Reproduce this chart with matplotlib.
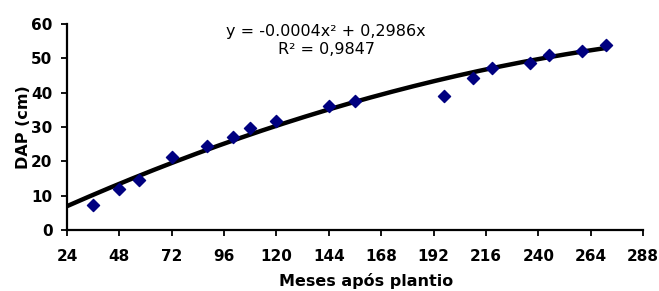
import numpy as np
import matplotlib
matplotlib.use("Agg")
import matplotlib.pyplot as plt

meses = [36, 48, 57, 72, 88, 100, 108, 120, 144, 156, 197, 210, 219, 236, 245, 260, 271]
dap = [7.3, 11.8, 14.7, 21.3, 24.5, 27.1, 29.6, 31.8, 36.1, 37.6, 39.0, 44.3, 47.2, 48.7, 51.1, 52.1, 53.8]

# linha de tendência polinomial (coeficientes; a equação mostrada é arredondada)
coef_a = -0.00038
coef_b = 0.2986
inicio_tend = 24
fim_tend = 271

xticks = [24, 48, 72, 96, 120, 144, 168, 192, 216, 240, 264, 288]
yticks = [0, 10, 20, 30, 40, 50, 60]

plt.rcParams['font.family'] = ['DejaVu Sans']

fig = plt.figure(figsize=(6.59, 2.91), dpi=100)
ax = fig.add_axes([0.1017, 0.2096, 0.874, 0.7079])

xt = np.linspace(inicio_tend, fim_tend, 200)
ax.plot(xt, coef_a * xt**2 + coef_b * xt, color='black', lw=3.2, zorder=2)
ax.scatter(meses, dap, marker='D', s=38, color='#000080', zorder=3)

ax.set_xlim(24, 288)
ax.set_ylim(0, 60)
ax.set_xticks(xticks)
ax.set_yticks(yticks)
for lbl in ax.get_xticklabels() + ax.get_yticklabels():
    lbl.set_fontweight('bold')
ax.tick_params(labelsize=11, length=4.5, width=1.3, direction='out')
ax.tick_params(axis='x', pad=9)
ax.tick_params(axis='y', pad=6)

ax.spines['top'].set_visible(False)
ax.spines['right'].set_visible(False)
ax.spines['left'].set_linewidth(1.6)
ax.spines['bottom'].set_linewidth(1.6)

ax.set_xlabel('Meses após plantio', fontsize=11.5, fontweight='bold', labelpad=7, x=0.52)
ax.set_ylabel('DAP (cm)', fontsize=11.5, fontweight='bold', labelpad=0)

ax.text(0.45, 0.966, 'y = -0.0004x² + 0,2986x', transform=ax.transAxes,
        ha='center', va='center', fontsize=11.5)
ax.text(0.45, 0.874, 'R² = 0,9847', transform=ax.transAxes,
        ha='center', va='center', fontsize=11.5)

fig.savefig('out.png', dpi=100)
